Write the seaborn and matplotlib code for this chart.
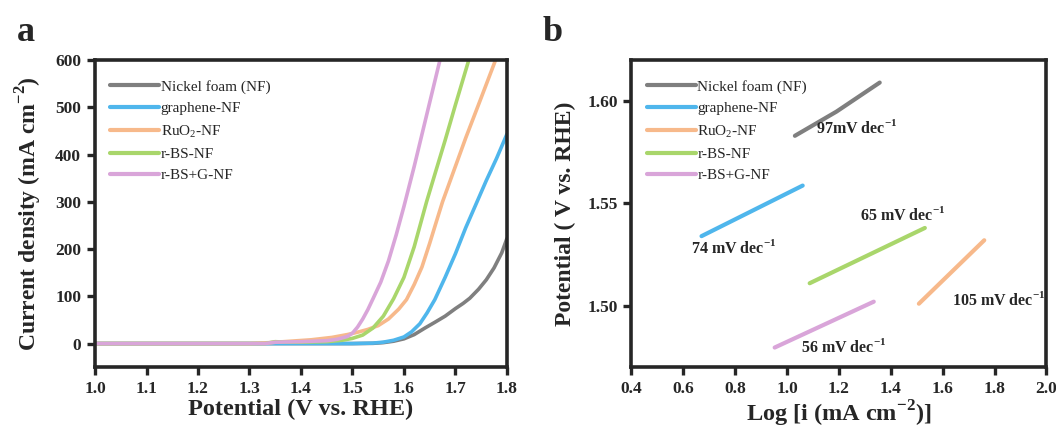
import pandas as pd
import seaborn as sns
import matplotlib.pyplot as plt

# LSV curves (panel a): potential (V vs. RHE) and current density (mA cm-2)
nf_v = [1.00, 1.50, 1.54, 1.56, 1.58, 1.60, 1.62, 1.641, 1.66, 1.68, 1.70, 1.715, 1.728, 1.745, 1.76,
        1.775, 1.79, 1.80]
nf_i = [0, 0, 0.5, 2, 5, 10, 19, 33, 45, 58, 74, 85, 96, 115, 135, 160, 192, 222]
gr_v = [1.00, 1.50, 1.54, 1.56, 1.58, 1.60, 1.615, 1.631, 1.645, 1.66, 1.68, 1.70, 1.72, 1.742, 1.76, 1.78, 1.80]
gr_i = [0, 0, 1, 3, 7, 14, 25, 42, 65, 93, 140, 190, 245, 300, 345, 392, 443]
ru_v = [1.00, 1.30, 1.34, 1.38, 1.42, 1.46, 1.49, 1.51, 1.53, 1.55, 1.57, 1.59, 1.605, 1.62, 1.635,
        1.65, 1.663, 1.675, 1.70, 1.72, 1.75, 1.778]
ru_i = [0, 0, 2, 5, 8, 13, 19, 24, 30, 38, 52, 73, 93, 125, 162, 212, 258, 300, 375, 435, 520, 600]
bs_v = [1.00, 1.33, 1.35, 1.37, 1.40, 1.45, 1.48, 1.50, 1.52, 1.54, 1.56, 1.58, 1.60, 1.62, 1.644,
        1.66, 1.68, 1.70, 1.726]
bs_i = [0, 0, 4, 3, 3, 4, 7, 11, 18, 33, 58, 95, 140, 205, 300, 358, 430, 505, 600]
bsg_v = [1.00, 1.33, 1.35, 1.40, 1.45, 1.47, 1.49, 1.50, 1.51, 1.52, 1.53, 1.54, 1.555, 1.57, 1.585,
         1.60, 1.62, 1.64, 1.67]
bsg_i = [0, 0, 3, 4, 6, 9, 15, 22, 35, 52, 72, 95, 130, 175, 230, 290, 375, 465, 600]

# Tafel lines (panel b): log current and potential
taf_nf_x = [1.03, 1.19, 1.357]
taf_nf_y = [1.583, 1.5948, 1.609]
taf_gr_x = [0.67, 1.06]
taf_gr_y = [1.534, 1.5587]
taf_ru_x = [1.508, 1.76]
taf_ru_y = [1.501, 1.532]
taf_bs_x = [1.087, 1.531]
taf_bs_y = [1.511, 1.538]
taf_bsg_x = [0.952, 1.334]
taf_bsg_y = [1.4796, 1.502]

labels = ['Nickel foam (NF)', 'graphene-NF', 'RuO$_\\mathregular{2}$-NF', 'r-BS-NF', 'r-BS+G-NF']
colors = ['#7f7f7f', '#4fb6ec', '#f7b98b', '#a9d66b', '#d9a5d9']

slope_text = ['97mV dec$^\\mathregular{-1}$', '74 mV dec$^\\mathregular{-1}$', '105 mV dec$^\\mathregular{-1}$',
              '65 mV dec$^\\mathregular{-1}$', '56 mV dec$^\\mathregular{-1}$']
slope_x = [1.27, 0.795, 1.815, 1.447, 1.22]
slope_y = [1.587, 1.528, 1.503, 1.5442, 1.480]

lsv = pd.concat([
    pd.DataFrame({'E': v, 'j': i, 'sample': lab})
    for v, i, lab in zip([nf_v, gr_v, ru_v, bs_v, bsg_v],
                         [nf_i, gr_i, ru_i, bs_i, bsg_i], labels)
])
tafel = pd.concat([
    pd.DataFrame({'logi': x, 'E': y, 'sample': lab})
    for x, y, lab in zip([taf_nf_x, taf_gr_x, taf_ru_x, taf_bs_x, taf_bsg_x],
                         [taf_nf_y, taf_gr_y, taf_ru_y, taf_bs_y, taf_bsg_y], labels)
])

sns.set_style('ticks')
plt.rcParams['font.family'] = ['Liberation Serif', 'DejaVu Serif']
plt.rcParams['mathtext.fontset'] = 'custom'
plt.rcParams['mathtext.rm'] = 'Liberation Serif'

fig = plt.figure(figsize=(10.56, 4.32), dpi=100)
ax1 = fig.add_axes([0.090, 0.150, 0.390, 0.711])
ax2 = fig.add_axes([0.598, 0.150, 0.393, 0.711])

pal = dict(zip(labels, colors))
sns.lineplot(data=lsv, x='E', y='j', hue='sample', palette=pal, hue_order=labels,
             estimator=None, sort=False, lw=2.6, ax=ax1)
sns.lineplot(data=tafel, x='logi', y='E', hue='sample', palette=pal, hue_order=labels,
             estimator=None, sort=False, lw=3.0, ax=ax2)

ax1.set_xlim(1.0, 1.8)
ax1.set_ylim(-50, 600)
ax1.set_xticks([1.0, 1.1, 1.2, 1.3, 1.4, 1.5, 1.6, 1.7, 1.8])
ax1.set_yticks([0, 100, 200, 300, 400, 500, 600])
ax1.set_xlabel('Potential (V vs. RHE)', fontsize=17.5, fontweight='bold', labelpad=1)
ax1.set_ylabel('Current density (mA cm$^\\mathregular{-2}$)', fontsize=17, fontweight='bold', labelpad=8)

ax2.set_xlim(0.4, 2.0)
ax2.set_ylim(1.47, 1.62)
ax2.set_xticks([0.4, 0.6, 0.8, 1.0, 1.2, 1.4, 1.6, 1.8, 2.0])
ax2.set_yticks([1.50, 1.55, 1.60])
ax2.set_yticklabels(['1.50', '1.55', '1.60'])
ax2.set_xlabel('Log [i (mA cm$^\\mathregular{-2}$)]', fontsize=17.5, fontweight='bold', labelpad=1)
ax2.set_ylabel('Potential ( V vs. RHE)', fontsize=17, fontweight='bold', labelpad=8)

for t, x, y in zip(slope_text, slope_x, slope_y):
    ax2.text(x, y, t, fontsize=11.5, fontweight='bold', ha='center', va='center')

for ax in (ax1, ax2):
    for sp in ax.spines.values():
        sp.set_visible(True)
        sp.set_linewidth(2.6)
    ax.tick_params(direction='out', length=6, width=2.4, labelsize=12.5, pad=4)
    for lab in ax.get_xticklabels() + ax.get_yticklabels():
        lab.set_fontweight('bold')
    leg = ax.legend(loc='upper left', frameon=False, fontsize=11, handlelength=3.2,
                    handletextpad=0.1, labelspacing=0.5, borderaxespad=0.6,
                    bbox_to_anchor=(0.0, 0.985))
    for h in leg.get_lines():
        h.set_linewidth(3)

fig.text(0.016, 0.905, 'a', fontsize=26, fontweight='bold')
fig.text(0.514, 0.905, 'b', fontsize=26, fontweight='bold')

fig.savefig('out.png', dpi=100)
